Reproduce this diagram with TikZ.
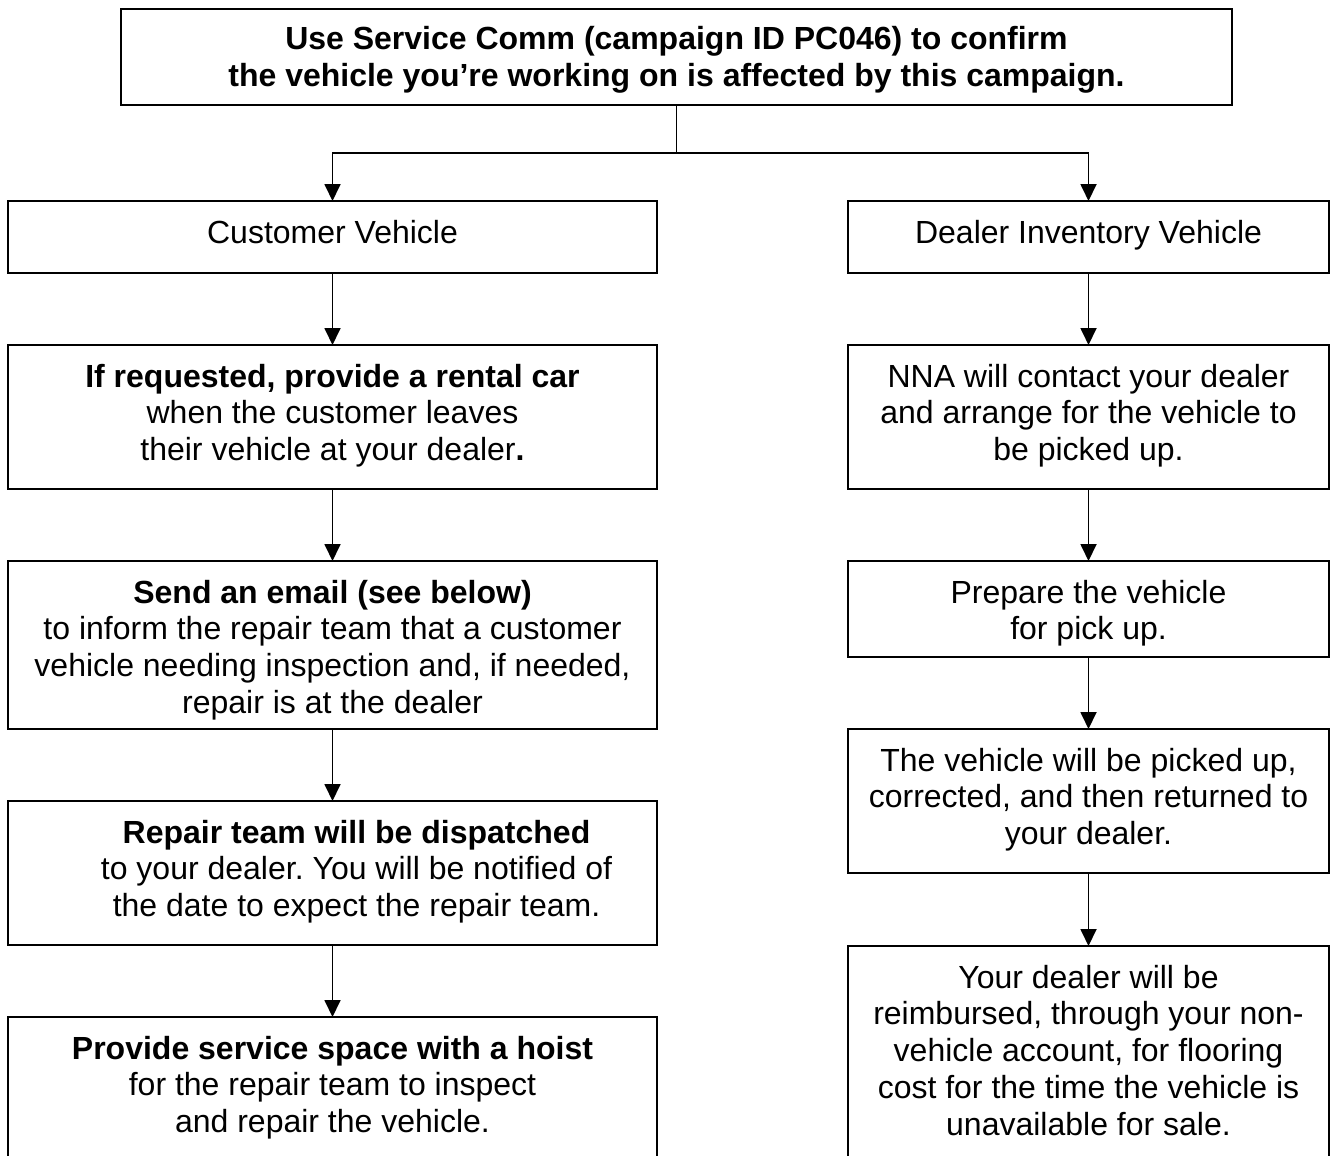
\documentclass[tikz,border=0pt]{standalone}
\usepackage{fontspec}
\setmainfont{Liberation Sans}
\usetikzlibrary{arrows.meta}
\frenchspacing
\newcommand{\flowtext}[4]{\parbox[c][#2][t]{#1}{\centering\rule{0pt}{#3}#4}}
\tikzset{
  flowbox/.style={draw=black, line width=2pt, inner sep=0pt, outer sep=0pt, anchor=north west,
    font=\fontsize{32pt}{36.8pt}\selectfont},
  conn/.style={line width=1.8pt, -{Triangle[width=16pt,length=17pt]}},
  plainconn/.style={line width=1.8pt}
}
\begin{document}
\begin{tikzpicture}[x=1pt,y=-1pt]
\path[use as bounding box] (0,0) rectangle (1330,1156);
\fill[white] (0,0) rectangle (1330,1156);
\clip (0,0) rectangle (1330,1156);

\node[flowbox] (top) at (121,9) {\flowtext{1111pt}{96pt}{41pt}{\bfseries Use Service Comm (campaign ID PC046) to confirm\\the vehicle you’re working on is affected by this campaign.}};

\node[flowbox] (cust) at (8,201) {\flowtext{649pt}{72pt}{42pt}{Customer Vehicle}};
\node[flowbox] (dealer) at (848,201) {\flowtext{481pt}{72pt}{42pt}{Dealer Inventory Vehicle}};

\node[flowbox] (l2) at (8,345) {\flowtext{649pt}{144pt}{42pt}{\textbf{If requested, provide a rental car}\\when the customer leaves\\their vehicle at your dealer\textbf{.}}};
\node[flowbox] (l3) at (8,561) {\flowtext{649pt}{168pt}{42pt}{\textbf{Send an email (see below)}\\to inform the repair team that a customer\\vehicle needing inspection and, if needed,\\repair is at the dealer}};
\node[flowbox] (l4) at (8,801) {\flowtext{649pt}{144pt}{42pt}{\leftskip=48pt plus 1fil\textbf{Repair team will be dispatched}\\to your dealer. You will be notified of\\the date to expect the repair team.}};
\node[flowbox] (l5) at (8,1017) {\flowtext{649pt}{150pt}{42pt}{\textbf{Provide service space with a hoist}\\for the repair team to inspect\\and repair the vehicle.}};

\node[flowbox] (r2) at (848,345) {\flowtext{481pt}{144pt}{42pt}{NNA will contact your dealer\\and arrange for the vehicle to\\be picked up.}};
\node[flowbox] (r3) at (848,561) {\flowtext{481pt}{96pt}{42pt}{Prepare the vehicle\\for pick up.}};
\node[flowbox] (r4) at (848,729) {\flowtext{481pt}{144pt}{42pt}{The vehicle will be picked up,\\corrected, and then returned to\\your dealer.}};
\node[flowbox] (r5) at (848,946) {\flowtext{481pt}{220pt}{42pt}{Your dealer will be\\reimbursed, through your non-\\vehicle account, for flooring\\cost for the time the vehicle is\\unavailable for sale.}};

\draw[plainconn] (top.south) -- ++(0,48) coordinate (split);
\draw[conn] (split) -| (cust.north);
\draw[conn] (split) -| (dealer.north);

\draw[conn] (cust.south) -- (l2.north);
\draw[conn] (l2.south) -- (l3.north);
\draw[conn] (l3.south) -- (l4.north);
\draw[conn] (l4.south) -- (l5.north);

\draw[conn] (dealer.south) -- (r2.north);
\draw[conn] (r2.south) -- (r3.north);
\draw[conn] (r3.south) -- (r4.north);
\draw[conn] (r4.south) -- (r5.north);
\end{tikzpicture}
\end{document}
